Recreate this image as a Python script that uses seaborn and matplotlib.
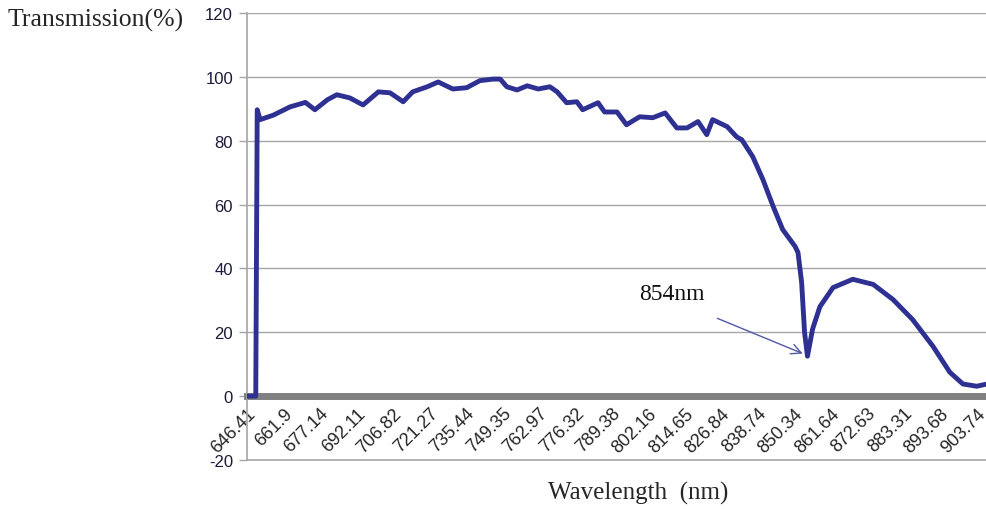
import numpy as np
import pandas as pd
import matplotlib
matplotlib.use("Agg")
import matplotlib.pyplot as plt
import seaborn as sns

# Datos (indice de pixel del espectrometro, transmision %)
pixel_idx = [0, 12, 14, 18, 36, 59, 80, 93, 110, 123, 141, 159, 180, 196,
             214, 227, 247, 262, 282, 301, 319, 337, 347, 356, 370, 384,
             399, 415, 425, 438, 452, 460, 481, 490, 507, 520, 538, 556,
             573, 589, 603, 618, 630, 638, 658, 671, 678, 693, 707, 721,
             734, 751, 755, 760, 764, 768, 775, 785, 803, 830, 858, 885,
             912, 940, 963, 981, 1000, 1014]
transmission = [0.0, 0.0, 89.7, 86.6, 88.0, 90.6, 92.0, 89.7, 92.8, 94.4,
                93.4, 91.2, 95.3, 95.0, 92.2, 95.3, 96.9, 98.4, 96.2, 96.6,
                98.8, 99.3, 99.3, 96.9, 95.9, 97.2, 96.2, 96.9, 95.3, 91.9,
                92.2, 89.7, 91.9, 89.0, 89.0, 85.0, 87.5, 87.2, 88.7, 84.0,
                84.0, 86.0, 81.9, 86.6, 84.4, 81.2, 80.3, 75.0, 67.8, 59.4,
                52.2, 46.9, 45.0, 35.6, 20.0, 12.5, 21.0, 28.0, 34.0, 36.6,
                35.0, 30.3, 24.0, 15.6, 7.5, 3.8, 3.1, 3.8]

# Etiquetas del eje X (longitud de onda, cada 50 pixeles)
tick_pos = list(range(0, 1001, 50))
tick_labels = ["646.41", "661.9", "677.14", "692.11", "706.82", "721.27",
               "735.44", "749.35", "762.97", "776.32", "789.38", "802.16",
               "814.65", "826.84", "838.74", "850.34", "861.64", "872.63",
               "883.31", "893.68", "903.74"]
y_ticks = [-20, 0, 20, 40, 60, 80, 100, 120]

df = pd.DataFrame({"pixel": pixel_idx, "T": transmission})

sns.set_style("white")
plt.rcParams["font.family"] = ["Liberation Sans", "DejaVu Sans"]

fig = plt.figure(figsize=(9.87, 5.10), dpi=100)
ax = fig.add_axes([247 / 987, 1 - 461 / 510, 1 - 247 / 987, (461 - 14) / 510])

grid_c = "#a6a6a6"
for yv in [20, 40, 60, 80, 100, 120]:
    ax.axhline(yv, color=grid_c, lw=1, zorder=0)
ax.axhline(-20, color=grid_c, lw=1.2, zorder=0, clip_on=False)

sns.lineplot(data=df, x="pixel", y="T", color="#2E3192", linewidth=3.5,
             ax=ax, zorder=3)

# Ejes (posicion del spine antes de los ticks, si no se pierden)
ax.spines["top"].set_visible(False)
ax.spines["right"].set_visible(False)
ax.spines["left"].set_color(grid_c)
ax.spines["left"].set_linewidth(1.2)
ax.spines["bottom"].set_position(("data", 0))
ax.spines["bottom"].set_color("#808080")
ax.spines["bottom"].set_linewidth(5)
ax.spines["bottom"].set_zorder(2)

ax.set_xlim(0, 1014)
ax.set_ylim(-20, 120)
ax.set_yticks(y_ticks)
ax.set_yticklabels([str(v) for v in y_ticks], fontsize=12, color="#1a1a3a")
ax.set_xticks(tick_pos)
ax.set_xticklabels(tick_labels, rotation=45, ha="right",
                   rotation_mode="anchor", fontsize=13)
ax.tick_params(axis="x", length=0, pad=6)
ax.tick_params(axis="y", length=6, width=1, color=grid_c, pad=4, left=True)
ax.set_xlabel("")
ax.set_ylabel("")

# Anotacion del minimo
ax.text(582, 32.2, "854nm", fontsize=17, family=["Liberation Serif"],
        ha="center", va="center", color="#111111")
ax.annotate("", xy=(765, 13.0), xytext=(641, 24.7),
            arrowprops=dict(arrowstyle="->", color="#5257a8", lw=1,
                            mutation_scale=18))

fig.text(8 / 987, 1 - 20 / 510, "Transmission(%)", fontsize=18.5,
         family=["Liberation Serif"], ha="left", va="center")
fig.text(638 / 987, 1 - 493 / 510, "Wavelength  (nm)", fontsize=18,
         family=["Liberation Serif"], ha="center", va="center")

fig.savefig("out.png", dpi=100)
